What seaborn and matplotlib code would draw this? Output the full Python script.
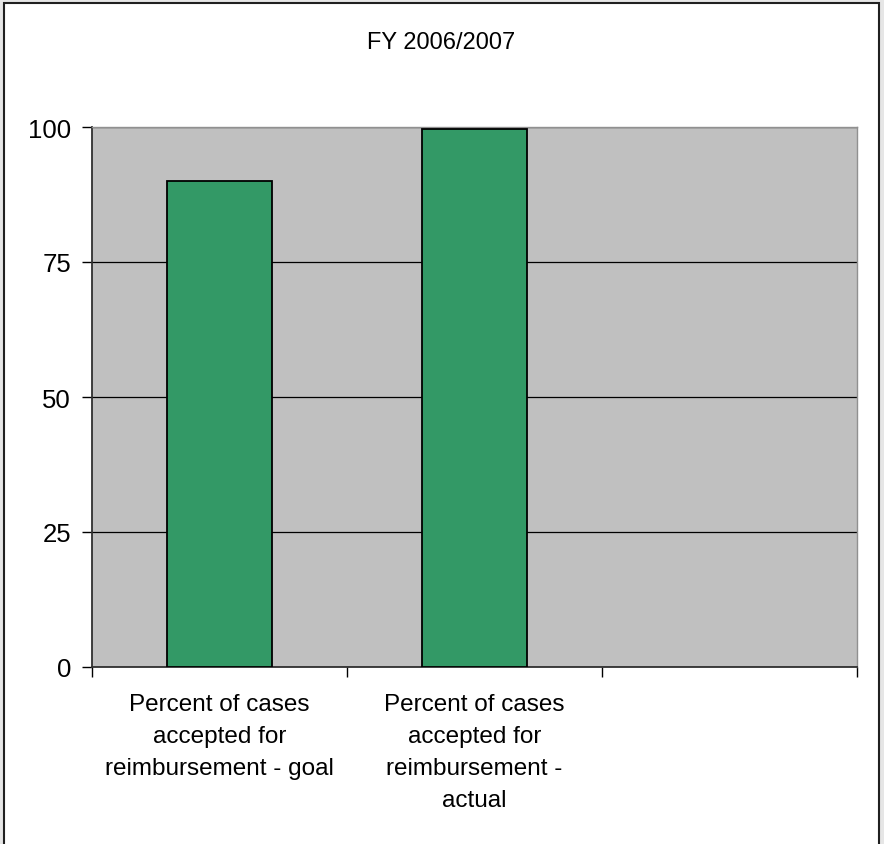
"""
Bar chart: percent of cases accepted for reimbursement, FY 2006/2007.
Excel-style look: grey plot area, black gridlines, green bars.
"""

import matplotlib
matplotlib.use("Agg")
import matplotlib.pyplot as plt
from matplotlib.patches import Rectangle
import numpy as np
import pandas as pd
import seaborn as sns

# ── data ─────────────────────────────────────────────────────────────────────
categories = [
    "Percent of cases\naccepted for\nreimbursement - goal",
    "Percent of cases\naccepted for\nreimbursement -\nactual",
]
values = [90, 99.6]
empty_slot = " "          # third, unused category slot
title = "FY 2006/2007"
y_ticks = [0, 25, 50, 75, 100]

GREEN = "#339966"
PLOT_BG = "#c0c0c0"
FONT = 17

sns.set_theme(style="white")
plt.rcParams["font.family"] = ["Liberation Sans", "DejaVu Sans"]
plt.rcParams["text.color"] = "black"
plt.rcParams["xtick.color"] = "black"
plt.rcParams["ytick.color"] = "black"

df = pd.DataFrame({"label": categories, "value": values})

fig = plt.figure(figsize=(8.84, 8.45), dpi=100)
fig.patch.set_facecolor("#e6e6e6")
# white chart frame with dark border
W, H = 884, 845
frame = Rectangle((4 / W, -0.05), (879 - 4) / W, 1.05 - 4 / H,
                  transform=fig.transFigure, facecolor="white",
                  edgecolor="#202020", linewidth=1.5, zorder=-10)
fig.patches.append(frame)

ax = fig.add_axes([92 / W, 1 - 668 / H, (857 - 92) / W, (668 - 128) / H])
ax.set_facecolor(PLOT_BG)

sns.barplot(data=df, x="label", y="value", order=categories + [empty_slot],
            color=GREEN, saturation=1, width=0.41,
            edgecolor="black", linewidth=1.3, ax=ax, zorder=3)

ax.set_xlim(-0.5, 2.5)
ax.set_ylim(0, 100)
ax.set_yticks(y_ticks)
ax.set_yticklabels([str(t) for t in y_ticks], fontsize=18.5, color="black")
ax.yaxis.grid(True, color="black", linewidth=0.9, zorder=1)
ax.set_axisbelow(True)

# category boundaries as major ticks, labels on minor ticks at centres
ax.set_xticks([-0.5, 0.5, 1.5, 2.5])
ax.set_xticklabels([])
ax.set_xticks([0, 1, 2], minor=True)
ax.set_xticklabels(categories + [""], minor=True, fontsize=17.5, color="black")
for t in ax.get_xticklabels(minor=True):
    t.set_linespacing(1.58)
    t.set_va("top")
ax.tick_params(axis="x", which="minor", length=0, pad=19)
ax.tick_params(axis="x", which="major", length=7, width=1, color="black",
               direction="out", bottom=True)
ax.tick_params(axis="y", length=7, width=1, color="black",
               direction="out", left=True, pad=8)

ax.set_xlabel("")
ax.set_ylabel("")
for side in ["left", "bottom"]:
    ax.spines[side].set_color("#303030")
    ax.spines[side].set_linewidth(1.3)
for side in ["top", "right"]:
    ax.spines[side].set_color("#909090")
    ax.spines[side].set_linewidth(1)

fig.text(441 / W, 1 - 43 / H, title, ha="center", va="center",
         fontsize=FONT, color="black")

fig.savefig("out.png", dpi=100, facecolor=fig.get_facecolor())
